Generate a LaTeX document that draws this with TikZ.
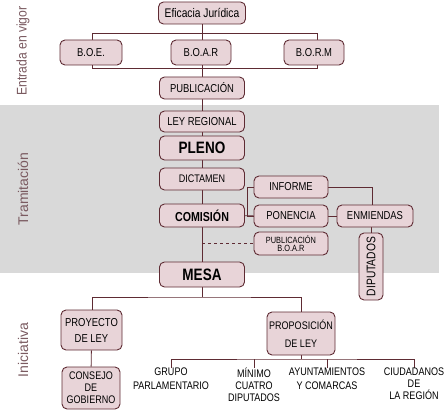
\documentclass[tikz,border=0pt]{standalone}
\usepackage{fontspec}
\setmainfont{Liberation Sans}
\newfontfamily\cf[FakeStretch=0.82]{Liberation Sans}
\usetikzlibrary{positioning}
\definecolor{boxfill}{HTML}{E8D4D8}
\definecolor{boxline}{HTML}{5E2B33}
\definecolor{band}{HTML}{D9D9D9}
\definecolor{sidetxt}{HTML}{7A5A60}
\pgfdeclarelayer{bandlayer}
\pgfdeclarelayer{linelayer}
\pgfsetlayers{bandlayer,linelayer,main}
\tikzset{
  box/.style={draw=boxline, fill=boxfill, line width=0.9pt, rounded corners=5pt,
    inner sep=0pt, align=center, font=\cf\fontsize{11.5}{12}\selectfont},
  conn/.style={draw=boxline, line width=0.9pt},
  plain/.style={inner sep=0pt, align=center, anchor=north},
  side/.style={rotate=90, text=sidetxt, font=\fontsize{14}{16}\selectfont, inner sep=0pt}
}
\begin{document}
\begin{tikzpicture}[x=1pt,y=-1pt]
\useasboundingbox (0,0) rectangle (447,412);
\begin{pgfonlayer}{bandlayer}
\fill[band] (0,105) rectangle (439,273);
\end{pgfonlayer}

% side labels
\node[side, anchor=west] (s1) at (23,96) {\scalebox{0.87}[1]{Entrada en vigor}};
\node[side] (s2) at (23,189) {Tramitación};
\node[side] (s3) at (23,350) {Iniciativa};

% column nodes
\node[box, minimum width=87pt, minimum height=22pt, font=\cf\fontsize{12.5}{14}\selectfont] (ef) at (202,13) {Eficacia Jurídica};
\node[box, minimum width=62pt, minimum height=25pt] (boe) at (91,52.5) {B.O.E.};
\node[box, minimum width=60pt, minimum height=25pt] (boar) at (201,52.5) {B.O.A.R};
\node[box, minimum width=60pt, minimum height=25pt] (borm) at (314,52.5) {B.O.R.M};
\node[box, minimum width=85pt, minimum height=22pt] (pub) at (202,88) {PUBLICACIÓN};
\node[box, minimum width=85pt, minimum height=21pt] (ley) at (202,121.5) {LEY REGIONAL};
\node[box, minimum width=85pt, minimum height=24pt, font=\cf\bfseries\fontsize{16.5}{18}\selectfont] (pleno) at (202,148) {PLENO};
\node[box, minimum width=85pt, minimum height=22pt, font=\cf\fontsize{11}{12}\selectfont] (dict) at (202,179) {DICTAMEN};
\node[box, minimum width=85pt, minimum height=23pt, font=\cf\bfseries\fontsize{13}{15}\selectfont] (com) at (202,215.5) {COMISIÓN};
\node[box, minimum width=85pt, minimum height=25pt, font=\cf\bfseries\fontsize{16.5}{18}\selectfont] (mesa) at (202,274.5) {MESA};

\node[box, minimum width=74pt, minimum height=22pt] (inf) at (291,187) {INFORME};
\node[box, minimum width=74pt, minimum height=22pt] (pon) at (291,216) {PONENCIA};
\node[box, minimum width=76pt, minimum height=22pt] (enm) at (375,216) {ENMIENDAS};
\node[box, minimum width=74pt, minimum height=23pt, font=\cf\fontsize{9}{8.5}\selectfont] (pubb) at (291,243.5) {PUBLICACIÓN\\B.O.A.R};
\node[box, minimum width=24pt, minimum height=67pt] (dip) at (371,266.5) {};
\node[rotate=90, inner sep=0pt, font=\cf\fontsize{12.5}{12}\selectfont] (diptxt) at (dip.center) {DIPUTADOS};

\node[box, minimum width=61pt, minimum height=40pt, font=\cf\fontsize{11.5}{16}\selectfont] (proy) at (91.5,330) {PROYECTO\\DE LEY};
\node[box, minimum width=58pt, minimum height=42pt, font=\cf\fontsize{11}{12}\selectfont] (cons) at (91,388) {CONSEJO\\DE\\GOBIERNO};
\node[box, minimum width=68pt, minimum height=43pt, font=\cf\fontsize{11}{18}\selectfont] (prop) at (301,333.5) {PROPOSICIÓN\\DE LEY};

\node[plain, font=\cf\fontsize{11}{14}\selectfont] (grupo) at (171,368) {GRUPO\\PARLAMENTARIO};
\node[plain, font=\cf\fontsize{11}{12}\selectfont] (minimo) at (254,368) {MÍNIMO\\CUATRO\\DIPUTADOS};
\node[plain, font=\cf\fontsize{11}{14}\selectfont] (ayu) at (327,368) {AYUNTAMIENTOS\\Y COMARCAS};
\node[plain, font=\cf\fontsize{11}{12}\selectfont] (ciu) at (414,368) {CIUDADANOS\\DE\\LA REGIÓN};

% connector coordinates
\coordinate (tl) at (92,33);
\coordinate (br) at (317,68);
\coordinate (mbar) at (202,297);
\coordinate (pbar) at (301,359);

\begin{pgfonlayer}{linelayer}
\draw[conn] (tl) rectangle (br);
\draw[conn] (ef) -- (mesa);
\draw[conn] (com) -- (pon);
\draw[conn] (inf.west) -- ++(-6,0) |- (pon.west);
\draw[conn] (inf.east) -| ([xshift=-3pt]enm.north);
\draw[conn] (pon) -- (enm);
\draw[conn] (dip.north) -- (dip.north |- enm.south);
\draw[conn, dashed] (com.center |- pubb) -- (pubb.west);
\draw[conn] (mesa.south) -- (mbar);
\draw[conn] ([xshift=0.5pt]proy.north) |- (mbar) -| (prop.north);
\draw[conn] (proy) -- (cons);
\draw[conn] (prop.south) -- (pbar);
\draw[conn] (grupo.north) |- (pbar) -| (ciu.north);
\draw[conn] (minimo.north) -- (minimo.north |- pbar);
\draw[conn] (ayu.north) -- (ayu.north |- pbar);
\end{pgfonlayer}
\end{tikzpicture}
\end{document}
